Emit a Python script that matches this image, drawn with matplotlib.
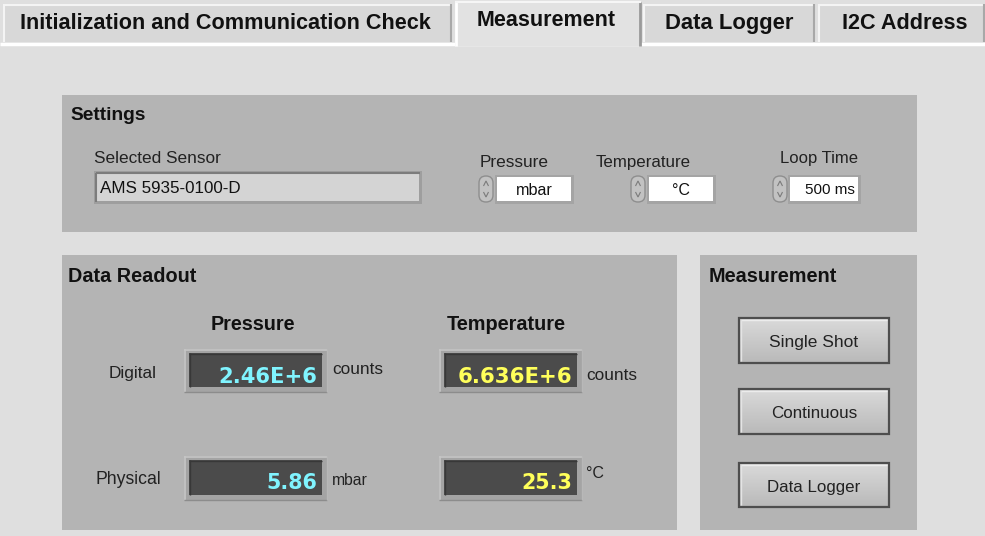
import matplotlib
matplotlib.use("Agg")
import matplotlib.pyplot as plt
from matplotlib.patches import Rectangle, FancyBboxPatch, Polygon
import numpy as np

# ---- content (display values) ----
tab_labels = ["Initialization and Communication Check", "Measurement", "Data Logger", "I2C Address"]
selected_tab = 1
selected_sensor = "AMS 5935-0100-D"
setting_labels = ["Pressure", "Temperature", "Loop Time"]
setting_values = ["mbar", "°C", "500 ms"]
readout_quantities = ["Pressure", "Temperature"]
readout_rows = ["Digital", "Physical"]
digital_values = ["2.46E+6", "6.636E+6"]
digital_units = ["counts", "counts"]
physical_values = ["5.86", "25.3"]
physical_units = ["mbar", "°C"]
button_labels = ["Single Shot", "Continuous", "Data Logger"]

# ---- figure in pixel coordinates ----
W, H = 985, 536
fig = plt.figure(figsize=(W / 100, H / 100), dpi=100)
ax = fig.add_axes([0, 0, 1, 1])
ax.set_xlim(0, W)
ax.set_ylim(H, 0)
ax.axis("off")
fig.patch.set_facecolor("#dfdfdf")
renderer = fig.canvas.get_renderer()

SANS = "Liberation Sans"
PANEL = "#b4b4b4"


def put(x, y, s, w, ha="left", weight="normal", color="#111111", family=SANS, z=5):
    t = ax.text(x, y, s, fontsize=10, ha=ha, va="center_baseline",
                fontweight=weight, color=color, family=family, zorder=z)
    bb = t.get_window_extent(renderer)
    t.set_fontsize(10 * w / bb.width)
    return t


def rect(x0, y0, x1, y1, fc, ec="none", lw=0, z=1):
    ax.add_patch(Rectangle((x0, y0), x1 - x0, y1 - y0, facecolor=fc,
                           edgecolor=ec, linewidth=lw, zorder=z))


def line(xs, ys, c, lw=1, z=3):
    ax.plot(xs, ys, color=c, linewidth=lw, zorder=z, solid_capstyle="butt")


def gradient(x0, y0, x1, y1, c_top, c_bot, z=2):
    top = np.array(matplotlib.colors.to_rgb(c_top))
    bot = np.array(matplotlib.colors.to_rgb(c_bot))
    t = np.linspace(0, 1, 64)[:, None]
    img = (top * (1 - t) + bot * t)[:, None, :]
    ax.imshow(img, extent=(x0, x1, y1, y0), aspect="auto", zorder=z,
              interpolation="bilinear")


# ---- tabs ----
rect(0, 0, W, 46, "#dfdfdf", z=0)
line([0, W], [43.5, 43.5], "#ffffff", lw=2.5, z=1)
tab_boxes = [(3, 452), (455, 641), (643, 815), (818, 985)]
tab_text_w = [408, 139, 128, 126]
tab_text_x = [20, 477, 665, 842]
for i, ((x0, x1), lab) in enumerate(zip(tab_boxes, tab_labels)):
    if i == selected_tab:
        rect(x0, 0, x1, 46, "#e2e2e2", z=2)
        line([x0 + 1, x0 + 1], [2, 46], "#ffffff", lw=2, z=3)
        line([x1 - 1, x1 - 1], [2, 46], "#9a9a9a", lw=2, z=3)
        line([x0, x1], [1.5, 1.5], "#f6f6f6", lw=1.5, z=3)
        put(tab_text_x[i], 18, lab, tab_text_w[i], weight="bold")
    else:
        rect(x0, 4, x1, 42, "#d8d8d8", z=2)
        line([x0, x1], [4.5, 4.5], "#f4f4f4", lw=1.5, z=3)
        line([x0 + 0.5, x0 + 0.5], [4, 42], "#f4f4f4", lw=1.5, z=3)
        line([x1 - 1, x1 - 1], [4, 42], "#a8a8a8", lw=1.5, z=3)
        put(tab_text_x[i], 21, lab, tab_text_w[i], weight="bold")

# ---- panels ----
rect(62, 95, 917, 232, PANEL)
rect(62, 255, 677, 530, PANEL)
rect(700, 255, 917, 530, PANEL)

# ---- Settings panel ----
put(70, 113, "Settings", 76, weight="bold")
put(94, 157, "Selected Sensor", 127, color="#222222")
rect(94, 171, 422, 204, "#9e9e9e", z=2)
rect(97, 174, 419, 201, "#d4d4d4", z=3)
line([96, 420], [173, 173], "#7c7c7c", lw=1.5, z=4)
line([96, 96], [173, 202], "#7c7c7c", lw=1.5, z=4)
put(100, 187, selected_sensor, 141, color="#111111")

ctrl_label_x = [480, 596, 780]
ctrl_label_w = [69, 95, 78]
ctrl_label_y = [161, 161, 157]
spin_x = [478, 630, 772]
box_x = [(497, 571), (649, 713), (790, 858)]
val_w = [37, 18, 50]
for i in range(3):
    put(ctrl_label_x[i], ctrl_label_y[i], setting_labels[i], ctrl_label_w[i], color="#222222")
    sx = spin_x[i]
    ax.add_patch(FancyBboxPatch((sx + 1, 176), 14, 26, boxstyle="round,pad=0,rounding_size=7",
                                facecolor="#c2c2c2", edgecolor="#8e8e8e", linewidth=1, zorder=3))
    ax.add_patch(Polygon([[sx + 5.5, 186], [sx + 8, 181], [sx + 10.5, 186]], closed=False,
                         fill=False, edgecolor="#7a7a7a", linewidth=0.8, zorder=4))
    ax.add_patch(Polygon([[sx + 5.5, 192], [sx + 8, 197], [sx + 10.5, 192]], closed=False,
                         fill=False, edgecolor="#7a7a7a", linewidth=0.8, zorder=4))
    bx0, bx1 = box_x[i]
    rect(bx0 - 2, 175, bx1 + 3, 204, "#a4a4a4", z=2)
    rect(bx0, 177, bx1, 201, "#ffffff", z=3)
    if i == 2:
        put(bx1 - 3, 189, setting_values[i], val_w[i], ha="right", color="#111111")
    else:
        put((bx0 + bx1) / 2, 189, setting_values[i], val_w[i], ha="center", color="#111111")

# ---- Data Readout panel ----
put(68, 274, "Data Readout", 128, weight="bold")
q_cx = [253, 506]
q_w = [85, 119]
for i in range(2):
    put(q_cx[i], 323, readout_quantities[i], q_w[i], ha="center", weight="bold")

put(133, 372, readout_rows[0], 48, ha="center", color="#222222")
put(128, 478, readout_rows[1], 66, ha="center", color="#222222")

disp_x = [184, 439]
row_y = [(349, 392), (456, 500)]
val_colors = ["#80f4ff", "#ffff5a"]
dig_w = [99, 114]
phys_w = [51, 51]
dig_unit_pos = [(332, 368), (586, 374)]
phys_unit_pos = [(332, 479), (586, 472)]
phys_unit_w = [36, 18]
for i in range(2):
    x0 = disp_x[i]
    x1 = x0 + 143
    for r, (y0, y1) in enumerate(row_y):
        rect(x0, y0, x1, y1, "#a4a4a4", z=2)
        line([x0, x1], [y0 + 0.5, y0 + 0.5], "#c6c6c6", lw=1.2, z=3)
        line([x0 + 0.5, x0 + 0.5], [y0, y1], "#c6c6c6", lw=1.2, z=3)
        line([x0, x1], [y1 - 0.5, y1 - 0.5], "#8c8c8c", lw=1, z=3)
        line([x1 - 0.5, x1 - 0.5], [y0, y1], "#b8b8b8", lw=1, z=3)
        rect(x0 + 5, y0 + 4, x1 - 5, y1 - 5, "#4b4b4b", z=3)
        line([x0 + 5, x1 - 5], [y0 + 4.5, y0 + 4.5], "#383838", lw=1, z=4)
        line([x0 + 5.5, x0 + 5.5], [y0 + 4, y1 - 5], "#383838", lw=1, z=4)
    put(x1 - 10, 375, digital_values[i], dig_w[i], ha="right",
        weight="bold", color=val_colors[i], family="DejaVu Sans")
    put(x1 - 10, 481, physical_values[i], phys_w[i], ha="right",
        weight="bold", color=val_colors[i], family="DejaVu Sans")
    put(dig_unit_pos[i][0], dig_unit_pos[i][1], digital_units[i], 51, color="#222222")
    put(phys_unit_pos[i][0], phys_unit_pos[i][1], physical_units[i], phys_unit_w[i], color="#222222")

# ---- Measurement panel ----
put(709, 274, "Measurement", 128, weight="bold")
btn_y = [(318, 363), (389, 434), (463, 507)]
btn_w = [89, 86, 93]
for lab, (y0, y1), w in zip(button_labels, btn_y, btn_w):
    gradient(739, y0, 889, y1, "#dadada", "#b9b9b9", z=2)
    rect(739, y0, 889, y1, "none", ec="#4e4e4e", lw=1.6, z=3)
    line([741, 887], [y0 + 2, y0 + 2], "#ececec", lw=1, z=3)
    line([741, 741], [y0 + 2, y1 - 2], "#e4e4e4", lw=1, z=3)
    put(814, (y0 + y1) / 2 + 1, lab, w, ha="center", color="#222222")

fig.savefig("out.png", dpi=100, facecolor=fig.get_facecolor())
